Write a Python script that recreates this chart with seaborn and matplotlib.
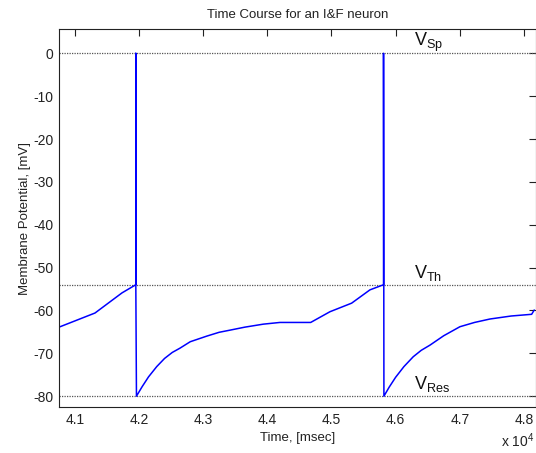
import numpy as np
import pandas as pd
import matplotlib
matplotlib.use("Agg")
import matplotlib.pyplot as plt
import seaborn as sns

# ---- data (time in ms, membrane potential in mV) ----
time_ms = [40755, 41316, 41737, 41952, 41952, 41952, 41952, 41962,
           42050, 42150, 42278, 42400, 42520, 42640, 42800, 43056, 43250,
           43419, 43650, 43938, 44198, 44677,
           44977, 45315, 45600, 45812, 45812, 45818,
           45900, 46000, 46130, 46275, 46400, 46535, 46750, 47002, 47230,
           47470, 47800, 48120, 48160]
voltage_mv = [-63.9, -60.6, -55.9, -54.0, 0.0, -40.0, -54.0, -80.0,
              -77.8, -75.5, -73.1, -71.2, -69.8, -68.8, -67.3, -66.0, -65.1,
              -64.6, -63.9, -63.2, -62.8, -62.8,
              -60.3, -58.3, -55.2, -54.0, 0.0, -80.0,
              -77.9, -75.6, -73.1, -70.8, -69.3, -68.1, -65.9, -63.8, -62.8,
              -62.0, -61.3, -60.9, -59.9]

ref_levels = [0, -54, -80]
ref_labels = [r"$\mathregular{V_{Sp}}$", r"$\mathregular{V_{Th}}$", r"$\mathregular{V_{Res}}$"]
label_time = 46286

xtick_vals = [41000, 42000, 43000, 44000, 45000, 46000, 47000, 48000]
xtick_labels = ["4.1", "4.2", "4.3", "4.4", "4.5", "4.6", "4.7", "4.8"]
ytick_vals = [0, -10, -20, -30, -40, -50, -60, -70, -80]

sns.set_theme(style="white")
plt.rcParams["font.family"] = ["Liberation Sans", "DejaVu Sans"]
plt.rcParams["mathtext.fontset"] = "custom"
plt.rcParams["mathtext.rm"] = "Liberation Sans"
plt.rcParams["mathtext.it"] = "Liberation Sans"

fig = plt.figure(figsize=(5.36, 4.53), dpi=100)
ax = fig.add_axes([59 / 536, 1 - 407.3 / 453, (535.5 - 59) / 536, (407.3 - 29.3) / 453])

for lv in ref_levels:
    ax.axhline(lv, color="#555555", lw=0.9, ls=(0, (1, 1)), zorder=1)

df = pd.DataFrame({"t": time_ms, "v": voltage_mv})
sns.lineplot(data=df, x="t", y="v", sort=False, estimator=None,
             color="#0000ff", lw=1.1, ax=ax, zorder=2)

for lv, lab in zip(ref_levels, ref_labels):
    ax.text(label_time, lv + 1.6, lab, fontsize=13, color="#111111",
            ha="left", va="baseline")

ax.set_xlim(40755, 48180)
ax.set_ylim(-82.6, 5.6)
ax.set_xticks(xtick_vals)
ax.set_xticklabels(xtick_labels)
ax.set_yticks(ytick_vals)
ax.set_yticklabels([str(v) for v in ytick_vals])
ax.tick_params(direction="in", length=5, width=0.8, top=True, right=True,
               labelsize=10, colors="#222222", pad=4)
for s in ax.spines.values():
    s.set_color("#222222")
    s.set_linewidth(0.8)

ax.set_title("Time Course for an I&F neuron", fontsize=9.5, color="#222222", pad=8)
ax.set_xlabel("Time, [msec]", fontsize=9.5, color="#222222", labelpad=4)
ax.set_ylabel("Membrane Potential, [mV]", fontsize=9.5, color="#222222", labelpad=1.5)
fig.text(501 / 536, 1 - 447 / 453, r"x 10$^{\mathregular{4}}$", fontsize=10,
         color="#222222", ha="left", va="baseline")

fig.savefig("out.png", dpi=100)
